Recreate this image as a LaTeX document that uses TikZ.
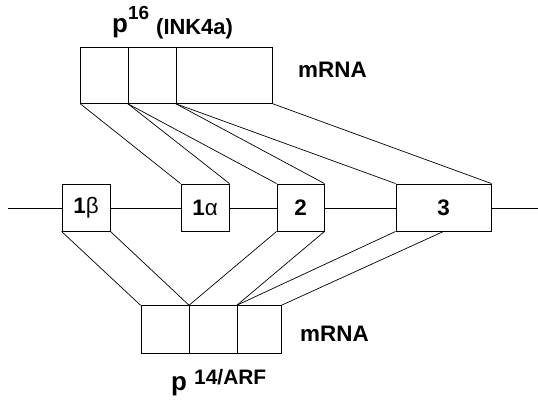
\documentclass[tikz,border=0pt]{standalone}
\usepackage{fontspec}
\setmainfont{Liberation Sans}
\begin{document}
\begin{tikzpicture}[x=1bp,y=-1bp,
  box/.style={draw,line width=0.9bp,rectangle,inner sep=0pt,minimum height=47bp},
  conn/.style={line width=0.7bp},
  lbl/.style={font=\fontsize{22.5}{26}\selectfont\bfseries,inner sep=0pt},
  txt/.style={inner sep=0pt,anchor=base west}]
\useasboundingbox (0,0) rectangle (538,403);
% genomic line
\coordinate (L) at (8,208);
\coordinate (R) at (538,208);
\draw[conn] (L) -- (R);
% exons
\node[box,fill=white,minimum width=48bp] (e1b) at (86,207.5) {};
\node[box,fill=white,minimum width=48bp] (e1a) at (205,207.5) {};
\node[box,fill=white,minimum width=47bp] (e2) at (300.5,207.5) {};
\node[box,fill=white,minimum width=95bp] (e3) at (443.5,207.5) {};
\node[lbl] at (e1b) {1\fontseries{m}\selectfont β};
\node[lbl] at (e1a) {1\fontseries{m}\selectfont α};
\node[lbl] at (e2) {2};
\node[lbl] at (e3) {3};
% top mRNA
\node[box,minimum width=47.6bp,minimum height=55.6bp] (t1) at (104.5,75.5) {};
\node[box,minimum width=48bp,minimum height=55.6bp] (t2) at (152.3,75.5) {};
\node[box,minimum width=96bp,minimum height=55.6bp] (t3) at (224.3,75.5) {};
% bottom mRNA
\node[box,minimum width=48.5bp,minimum height=47.6bp] (b1) at (165.25,329.5) {};
\node[box,minimum width=47.8bp,minimum height=47.6bp] (b2) at (213.4,329.5) {};
\node[box,minimum width=43.7bp,minimum height=47.6bp] (b3) at (259.15,329.5) {};
% top connectors
\draw[conn] (t1.south west) -- (e1a.north west);
\draw[conn] (t2.south west) -- (e1a.north east);
\draw[conn] (t2.south west) -- (e2.north west);
\draw[conn] (t3.south west) -- (e2.north east);
\draw[conn] (t3.south west) -- (e3.north west);
\draw[conn] (t3.south east) -- (e3.north east);
% bottom connectors
\draw[conn] (e1b.south west) -- (b1.north west);
\draw[conn] (e1b.south east) -- (b2.north west);
\draw[conn] (e2.south west) -- (b2.north west);
\draw[conn] (e2.south east) -- (b3.north west);
\draw[conn] (e3.south west) -- (b3.north west);
\draw[conn] (e3.south) -- (b3.north east);
% labels
\node[lbl,anchor=west] (m1) at (298,70) {mRNA};
\node[lbl,anchor=west] (m2) at (300,334) {mRNA};
\node[txt,font=\fontsize{26}{28}\selectfont\bfseries] (p1) at (112,32) {p};
\node[txt,font=\fontsize{19}{22}\selectfont\bfseries] (s1) at (128,19) {16};
\node[txt,font=\fontsize{22}{25}\selectfont\bfseries] (i1) at (156,34) {(INK4a)};
\node[txt,font=\fontsize{26}{28}\selectfont\bfseries] (p2) at (171,390) {p};
\node[txt,font=\fontsize{21}{24}\selectfont\bfseries] (s2) at (194,384) {14/ARF};
\end{tikzpicture}
\end{document}
